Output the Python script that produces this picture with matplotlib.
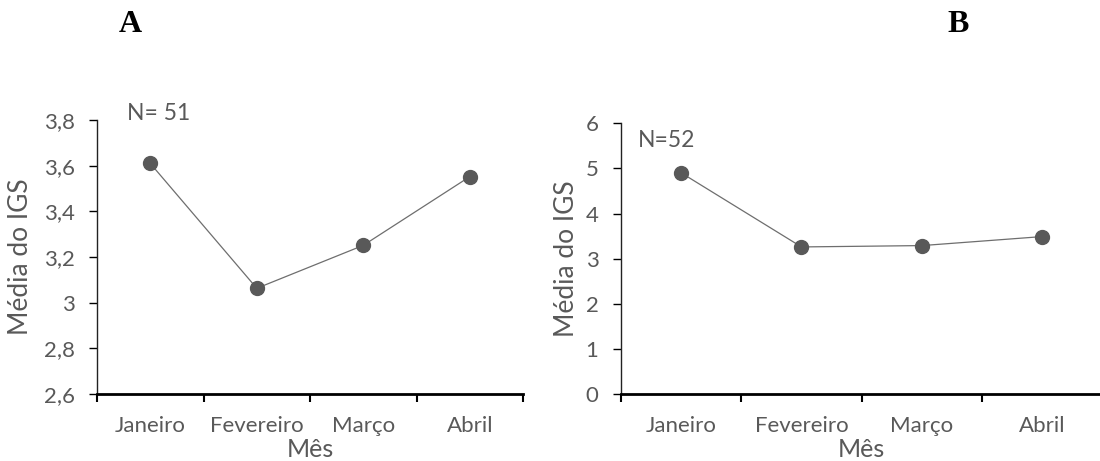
import numpy as np
import matplotlib.pyplot as plt

plt.rcParams['font.family'] = ['Lato', 'DejaVu Sans']

# Data
meses = ['Janeiro', 'Fevereiro', 'Março', 'Abril']
igs_a = [3.61, 3.063, 3.251, 3.552]
igs_b = [4.905, 3.26, 3.29, 3.49]

cinza = '#595959'
fig = plt.figure(figsize=(11, 4.61), dpi=100)

ax_a = fig.add_axes([0.0882, 0.1453, 0.3873, 0.5944])
ax_b = fig.add_axes([0.5643, 0.1453, 0.4382, 0.5872])


def painel(ax, valores, ylim, yticks, ylabels, ntext, npos, ylab_x, xlab_y):
    x = np.arange(len(valores)) + 0.5
    ax.plot(x, valores, color='#6e6e6e', linewidth=0.9, marker='o',
            markersize=10, markerfacecolor=cinza, markeredgecolor=cinza,
            clip_on=False)
    ax.set_xlim(0, 4)
    ax.set_ylim(*ylim)
    ax.set_xticks(np.arange(5))
    ax.set_xticklabels([])
    ax.set_xticks(x, minor=True)
    ax.set_xticklabels(meses, minor=True, fontsize=16, color=cinza)
    ax.tick_params(axis='x', which='minor', length=0, pad=16)
    ax.tick_params(axis='x', which='major', length=6, width=1.5, direction='out')
    ax.set_yticks(yticks)
    ax.set_yticklabels(ylabels, fontsize=16, color=cinza)
    ax.tick_params(axis='y', length=6, width=1, direction='out', pad=10)
    for s in ['top', 'right']:
        ax.spines[s].set_visible(False)
    ax.spines['bottom'].set_linewidth(2)
    ax.spines['left'].set_linewidth(1)
    ax.spines['left'].set_color('#222222')
    ax.set_xlabel('Mês', fontsize=18, color=cinza, va='top')
    ax.xaxis.set_label_coords(0.5, xlab_y)
    ax.set_ylabel('Média do IGS', fontsize=19, color=cinza, va='center')
    ax.yaxis.set_label_coords(ylab_x, 0.5)
    ax.text(npos[0], npos[1], ntext, transform=ax.transAxes, fontsize=16.5,
            color=cinza, va='center', ha='left')


painel(ax_a, igs_a, (2.6, 3.8), [2.6, 2.8, 3.0, 3.2, 3.4, 3.6, 3.8],
       ['2,6', '2,8', '3', '3,2', '3,4', '3,6', '3,8'], 'N= 51', (0.07, 1.025),
       -0.1796, -0.160)
painel(ax_b, igs_b, (0, 6), [0, 1, 2, 3, 4, 5, 6],
       ['0', '1', '2', '3', '4', '5', '6'], 'N=52', (0.036, 0.935),
       -0.1135, -0.162)

fig.text(130 / 1100, 1 - 24 / 461, 'A', fontsize=23, fontweight='bold',
         family='Liberation Serif', ha='center', va='center')
fig.text(958 / 1100, 1 - 24 / 461, 'B', fontsize=23, fontweight='bold',
         family='Liberation Serif', ha='center', va='center')

fig.savefig('out.png', dpi=100)
